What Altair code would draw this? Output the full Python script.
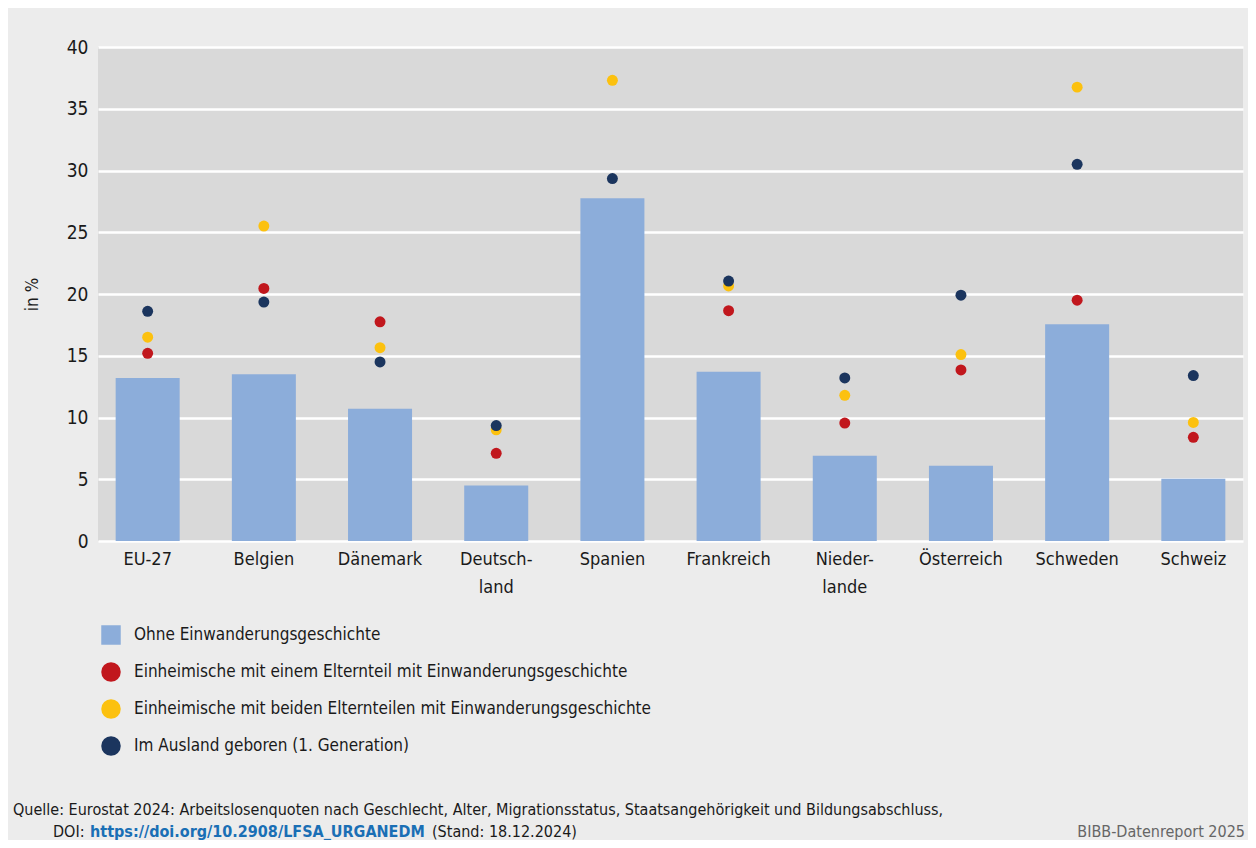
import altair as alt
import pandas as pd

categories = ["EU-27", "Belgien", "Dänemark", "Deutsch-\nland", "Spanien",
              "Frankreich", "Nieder-\nlande", "Österreich", "Schweden", "Schweiz"]
series = ["Ohne Einwanderungsgeschichte",
          "Einheimische mit einem Elternteil mit Einwanderungsgeschichte",
          "Einheimische mit beiden Elternteilen mit Einwanderungsgeschichte",
          "Im Ausland geboren (1. Generation)"]
ohne = [13.2, 13.5, 10.7, 4.5, 27.75, 13.7, 6.9, 6.1, 17.55, 5.05]
einem = [15.2, 20.45, 17.75, 7.1, None, 18.65, 9.55, 13.85, 19.5, 8.4]
beiden = [16.5, 25.5, 15.65, 9.0, 37.3, 20.65, 11.8, 15.1, 36.75, 9.6]
ausland = [18.6, 19.35, 14.5, 9.35, 29.35, 21.05, 13.2, 19.9, 30.5, 13.4]
colors = ["#8cadda", "#c1171d", "#fcc10f", "#1b355e"]
shapes = ["square", "circle", "circle", "circle"]

bars = pd.DataFrame({"Land": categories, "Serie": series[0], "Wert": ohne})
rows = []
for s, vals in zip(series[1:], [einem, beiden, ausland]):
    for c, v in zip(categories, vals):
        if v is not None:
            rows.append({"Land": c, "Serie": s, "Wert": v})
points = pd.DataFrame(rows)
points["order"] = points["Serie"].map({s: i for i, s in enumerate(series)})

FONT = "Liberation Sans Narrow, DejaVu Sans Condensed, sans-serif"

legend = alt.Legend(title=None, orient="none", legendX=3, legendY=578,
                    direction="vertical", symbolSize=380,
                    symbolStrokeWidth=0, symbolOpacity=1,
                    labelFont=FONT, labelFontSize=17,
                    labelColor="#1a1a1a", labelLimit=800,
                    rowPadding=17, labelOffset=13, padding=0)

x = alt.X("Land:N", sort=categories, title=None,
          scale=alt.Scale(paddingInner=0.449, paddingOuter=0.152),
          axis=alt.Axis(labelExpr="split(datum.label, '\\n')", labelAngle=0,
                        ticks=False, domain=False, grid=False, labelPadding=9,
                        labelFontSize=18, labelLineHeight=28, labelColor="#1a1a1a",
                        labelFont=FONT))
y = alt.Y("Wert:Q", title="in %", scale=alt.Scale(domain=[0, 40], nice=False),
          axis=alt.Axis(values=list(range(0, 45, 5)), ticks=False, domain=False,
                        gridColor="white", gridWidth=2.5, labelPadding=10,
                        labelFontSize=19, labelColor="#1a1a1a", labelFont=FONT,
                        titleFont=FONT, titleFontSize=17, titleFontWeight="normal",
                        titleColor="#1a1a1a", titleAngle=-90, titleX=-66, titleY=247,
                        titleAlign="center", titleBaseline="middle"))
color = alt.Color("Serie:N", scale=alt.Scale(domain=series, range=colors), legend=legend)
shape = alt.Shape("Serie:N", scale=alt.Scale(domain=series, range=shapes), legend=legend)

bar_layer = alt.Chart(bars).mark_bar(opacity=1).encode(x=x, y=y, color=color)
point_layer = alt.Chart(points).mark_point(filled=True, size=120, opacity=1).encode(
    x=x, y="Wert:Q", color=color, shape=shape, order=alt.Order("order:Q"))

def txt(text, px, py, color="#1a1a1a", weight="normal", align="left"):
    return alt.Chart(pd.DataFrame({"t": [text]})).mark_text(
        font=FONT, fontSize=16, color=color, fontWeight=weight, align=align,
        baseline="middle").encode(x=alt.value(px), y=alt.value(py), text="t:N")

src1 = "Quelle: Eurostat 2024: Arbeitslosenquoten nach Geschlecht, Alter, Migrationsstatus, Staatsangehörigkeit und Bildungsabschluss,"
foot = [
    txt(src1, 13 - 98, 810 - 47),
    txt("DOI:", 53 - 98, 832 - 47),
    txt("https://doi.org/10.2908/LFSA_URGANEDM", 90 - 98, 832 - 47, color="#1a6fb5", weight="bold"),
    txt("(Stand: 18.12.2024)", 432 - 98, 832 - 47),
    txt("BIBB-Datenreport 2025", 1245 - 98, 832 - 47, color="#666666", align="right"),
]

chart = alt.layer(bar_layer, point_layer, *foot).properties(
    width=1145, height=494,
    autosize=alt.AutoSizeParams(type="none"),
    padding={"left": 90, "top": 39, "right": 5, "bottom": 299},
    background="#ececec",
).configure_view(fill="#d9d9d9", stroke=None).resolve_scale(color="shared", shape="shared")

chart.save("out.html", embed_options={"renderer": "svg", "actions": False})
